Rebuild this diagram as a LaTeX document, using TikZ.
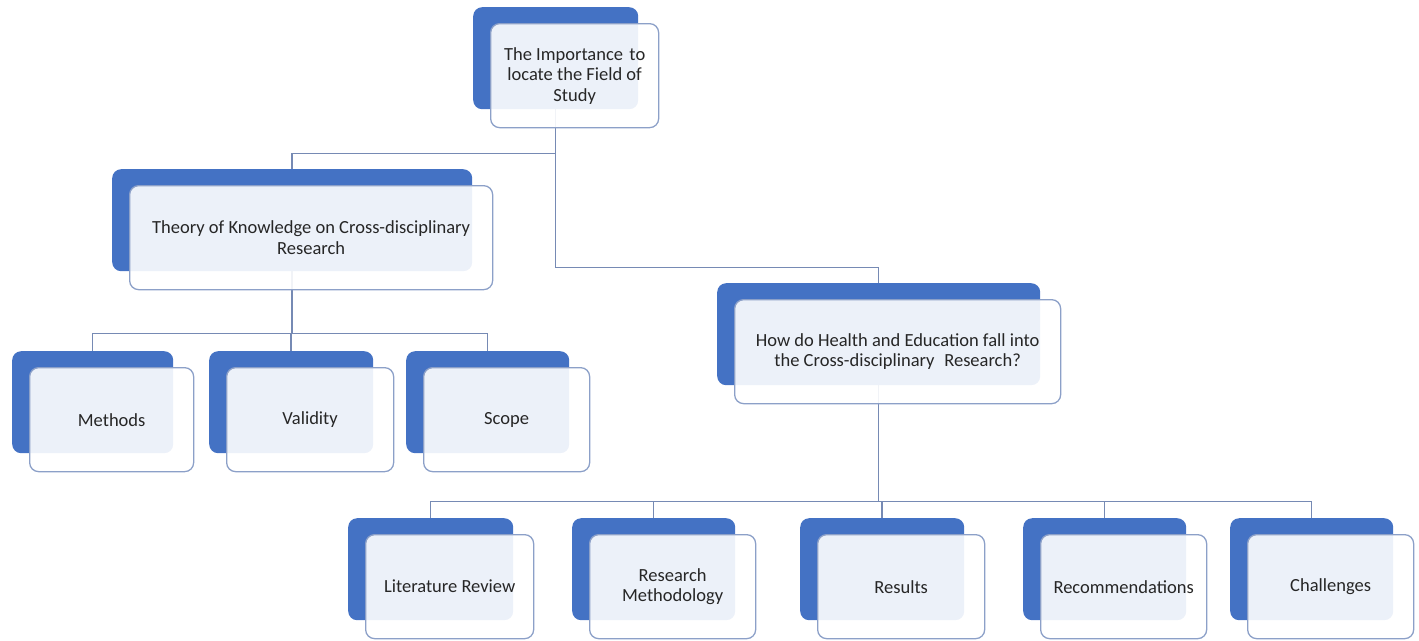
\documentclass[tikz,border=0pt]{standalone}
\usepackage{fontspec}
\setmainfont{Carlito}
\definecolor{accent}{RGB}{68,114,196}
\definecolor{framec}{RGB}{140,160,200}
\definecolor{linec}{RGB}{118,138,180}
\definecolor{textc}{RGB}{38,38,38}
\pgfdeclarelayer{bg}
\pgfsetlayers{bg,main}
\tikzset{
  backbox/.style={fill=accent, draw=none, rounded corners=9pt, anchor=north west,
    inner sep=0pt, minimum height=102pt},
  frontbox/.style={fill=white, fill opacity=0.9, text opacity=1, draw=framec,
    draw opacity=1, line width=1.3pt, rounded corners=9pt, anchor=north west,
    inner sep=0pt, minimum height=104pt, align=center, text=textc,
    font=\fontsize{18.5}{20.5}\selectfont},
  link/.style={draw=linec, line width=1.5pt}
}
\newcommand\pairnode[5]{%
  \node[backbox, minimum width=#4pt] (#1b) at (#2,#3) {};
  \node[frontbox, minimum width={(#4+3)*1pt}] (#1) at (#2+17,#3+16) {#5};}
\begin{document}
\begin{tikzpicture}[x=1pt,y=-1pt]
\useasboundingbox (0,0) rectangle (1419,640);
\pairnode{top}{473}{7}{165}{The Importance\hspace{0.12em} to\\locate the Field of\\Study}
\pairnode{theory}{112}{169}{360}{Theory of Knowledge on Cross-disciplinary\\Research}
\pairnode{methods}{12}{351}{161}{Methods}
\pairnode{validity}{209}{351}{164}{Validity}
\pairnode{scope}{406}{351}{163}{Scope}
\pairnode{how}{717}{283}{323}{How do Health and Education fall into\\the Cross-disciplinary\hspace{0.3em} Research?}
\pairnode{lit}{348}{518}{165}{Literature Review}
\pairnode{meth}{572}{518}{163}{Research\\Methodology}
\pairnode{res}{800}{518}{164}{Results}
\pairnode{rec}{1023}{518}{163}{Recommendations}
\pairnode{chal}{1230}{518}{163}{Challenges}
\begin{pgfonlayer}{bg}
\draw[link] (topb.south) -- ++(0,44) -| (theoryb.north);
\draw[link] (topb.south) -- ++(0,158) -| (howb.north);
\draw[link] (theoryb.south) -- ++(0,62) -| (methodsb.north);
\draw[link] (theoryb.south) -- ++(0,62) -| (validityb.north);
\draw[link] (theoryb.south) -- ++(0,62) -| (scopeb.north);
\draw[link] (howb.south) -- ++(0,116) -| (litb.north);
\draw[link] (howb.south) -- ++(0,116) -| (methb.north);
\draw[link] (howb.south) -- ++(0,116) -| (resb.north);
\draw[link] (howb.south) -- ++(0,116) -| (recb.north);
\draw[link] (howb.south) -- ++(0,116) -| (chalb.north);
\end{pgfonlayer}
\end{tikzpicture}
\end{document}
